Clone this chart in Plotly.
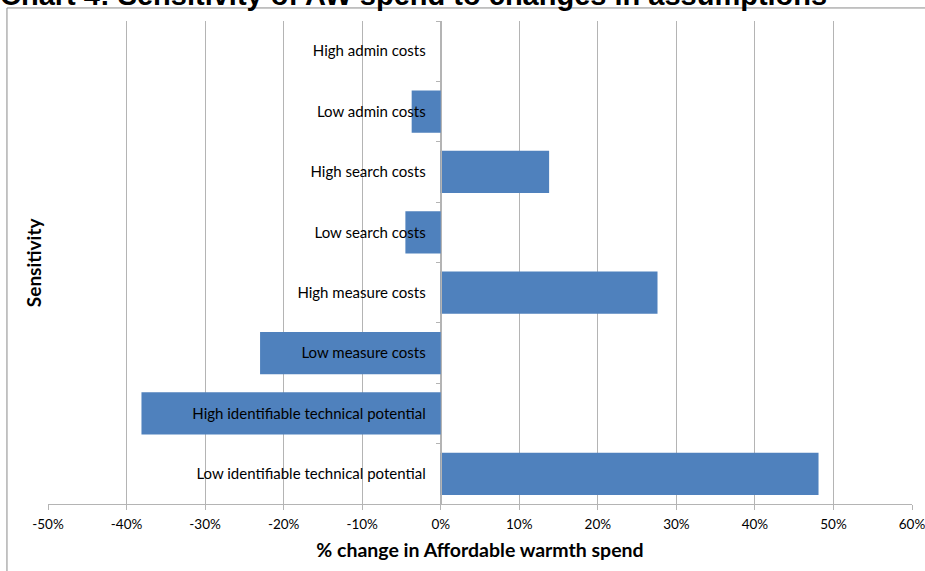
import plotly.graph_objects as go

# Sensitivity cases, listed top to bottom
cases = [
    "High admin costs",
    "Low admin costs",
    "High search costs",
    "Low search costs",
    "High measure costs",
    "Low measure costs",
    "High identifiable technical potential",
    "Low identifiable technical potential",
]
# % change in Affordable warmth spend
pct_change = [0.0, -0.037, 0.138, -0.045, 0.276, -0.230, -0.381, 0.481]

x_ticks = [-0.5, -0.4, -0.3, -0.2, -0.1, 0.0, 0.1, 0.2, 0.3, 0.4, 0.5, 0.6]
x_tick_text = [f"{round(v * 100)}%" for v in x_ticks]

label_font = "Lato, Calibri, sans-serif"
grid_col = "#b4b4b4"

fig = go.Figure(
    go.Bar(
        x=pct_change,
        y=cases,
        orientation="h",
        marker=dict(color="#4f81bd", line=dict(width=0)),
        hoverinfo="x+y",
    )
)

fig.update_layout(
    width=925,
    height=571,
    margin=dict(l=48, r=13, t=21, b=67, autoexpand=False),
    paper_bgcolor="white",
    plot_bgcolor="white",
    bargap=0.3,
    showlegend=False,
    font=dict(family=label_font, color="black"),
)

fig.update_xaxes(
    range=[-0.5, 0.6],
    tickvals=x_ticks,
    ticktext=x_tick_text,
    automargin=False,
    ticklabeloverflow="allow",
    ticklabelstandoff=3,
    showgrid=True,
    gridcolor=grid_col,
    gridwidth=1,
    zeroline=False,
    showline=True,
    linecolor=grid_col,
    ticks="outside",
    ticklen=5,
    tickcolor=grid_col,
    tickfont=dict(size=13.5, family=label_font),
    title=dict(
        text="<b>% change in Affordable warmth spend</b>",
        font=dict(size=19.5, family=label_font),
        standoff=12,
    ),
)

fig.update_yaxes(
    type="category",
    categoryorder="array",
    categoryarray=cases,
    autorange="reversed",
    automargin=False,
    anchor="free",
    position=5 / 11,
    showline=True,
    linecolor=grid_col,
    showgrid=False,
    zeroline=False,
    ticks="outside",
    tickson="boundaries",
    ticklen=5,
    tickcolor=grid_col,
    tickfont=dict(size=15, family=label_font),
    ticklabelstandoff=12,
)

# Vertical axis title
fig.add_annotation(
    text="<b>Sensitivity</b>",
    xref="paper", yref="paper",
    x=-0.001, y=0.5,
    xanchor="right", yanchor="middle",
    textangle=-90,
    showarrow=False,
    font=dict(size=19, family=label_font),
)

# Chart title, partly above the top edge of the page
fig.add_annotation(
    text="<b>Chart 4: Sensitivity of AW spend to changes in assumptions</b>",
    xref="paper", yref="paper",
    x=-0.058, y=1.0,
    xanchor="left", yanchor="bottom",
    yshift=8,
    showarrow=False,
    font=dict(size=29, family="Liberation Sans, Arial, sans-serif"),
)

# Chart-area border
fig.add_shape(
    type="rect",
    xref="paper", yref="paper",
    x0=-0.0475, x1=1.2, y0=-0.3, y1=1.027,
    line=dict(color="#8a8a8a", width=1),
    fillcolor="rgba(0,0,0,0)",
    layer="above",
)

fig.write_html("out.html")
